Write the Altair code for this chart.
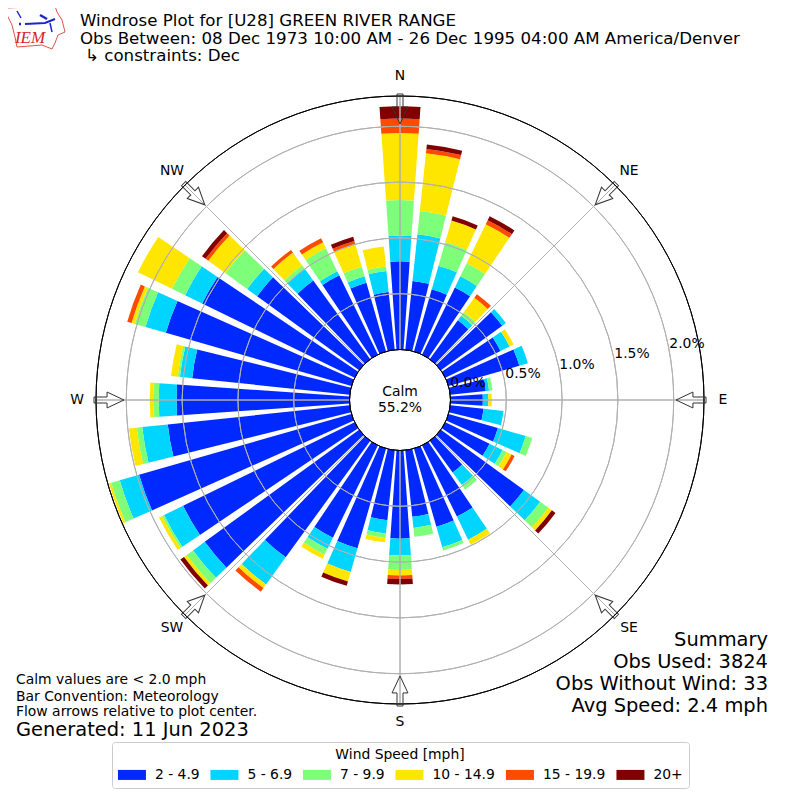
import math
import altair as alt
import pandas as pd

directions = list(range(0, 360, 10))
classes = ["2 - 4.9", "5 - 6.9", "7 - 9.9", "10 - 14.9", "15 - 19.9", "20+"]
colors = ["#0029ff", "#00d5ff", "#7dff7a", "#ffe600", "#ff4a00", "#800000"]

# percent of observations per direction, one list per speed class
s_2_5 = [.79, .62, .58, .67, .43, .68, .55, .66, .32, .29, .30, .46, .44, .92, .35, .71, .73, .60,
         .79, .63, .93, .92, 1.29, 1.71, 1.71, 1.98, 1.64, 1.55, 1.42, 1.73, 1.52, 1.13, .87, .79, .64, .52]
s_5_7 = [.23, .42, .22, .11, .05, .04, .09, .08, .03, .05, .18, .26, .13, .18, .14, .23, .19, .10,
         .15, .12, .22, .11, .30, .13, .19, .18, .23, .16, .11, .19, .17, .11, .13, .04, .06, .19]
s_7_10 = [.32, .21, .22, .13, .04, 0, 0, 0, .03, 0, 0, .06, .04, .09, .05, 0, .03, .08,
          .13, .04, 0, .06, 0, .07, .02, .08, .05, .05, .02, .10, .13, .24, .04, .23, .09, .04]
s_10_15 = [.60, .52, .20, .39, .16, 0, .04, 0, 0, .03, 0, 0, .05, .04, 0, .05, 0, 0,
           .05, .04, .09, .04, .04, .03, .03, .02, .07, .03, .06, .03, .34, .19, .14, .06, .21, .18]
s_15_20 = [.13, .04, 0, .04, .04, 0, 0, 0, 0, 0, 0, 0, .03, 0, 0, 0, 0, 0,
           .03, 0, 0, 0, .04, 0, 0, 0, 0, 0, 0, .04, 0, .03, .03, .04, .03, 0]
s_20 = [.11, .04, .04, .04, 0, 0, 0, 0, 0, 0, 0, 0, 0, .04, 0, 0, 0, 0,
        .05, 0, .04, 0, 0, .04, 0, 0, 0, 0, 0, 0, 0, .04, 0, 0, .04, 0]
series = [s_2_5, s_5_7, s_7_10, s_10_15, s_15_20, s_20]

ring_values = [0.5, 1.0, 1.5, 2.0]
ring_labels = ["0.0%", "0.5%", "1.0%", "1.5%", "2.0%"]
compass = ["N", "NE", "E", "SE", "S", "SW", "W", "NW"]
outer = 2.2715

CX, CY = 392, 392
FONT = "DejaVu Sans"

rows = []
for i, d in enumerate(directions):
    base = 0.0
    for c, vals in zip(classes, series):
        v = vals[i]
        if v > 0:
            rows.append(dict(cls=c, a=math.radians(d - 4), b=math.radians(d + 4), r0=base, r1=base + v))
        base += v
bars_df = pd.DataFrame(rows)

rscale = alt.Scale(type="linear", domain=[0, outer], range=[50.5, 304])
center = dict(x=alt.value(CX), y=alt.value(CY))

bars = alt.Chart(bars_df).mark_arc(stroke=None).encode(
    theta=alt.Theta("a:Q", scale=None),
    theta2="b:Q",
    radius=alt.Radius("r1:Q", scale=rscale),
    radius2="r0:Q",
    color=alt.Color(
        "cls:N",
        scale=alt.Scale(domain=classes, range=colors),
        sort=classes,
        legend=alt.Legend(
            title="Wind Speed [mph]", orient="none", legendX=104, legendY=734,
            direction="horizontal", columns=6, columnPadding=9.5,
            symbolType="M-1.4,-1H4.2V1H-1.4Z",
            symbolSize=100, symbolStrokeWidth=0, symbolOpacity=1, titleFont=FONT, labelFont=FONT,
            titleFontSize=13.9, labelFontSize=13.9, titleFontWeight="normal", titleColor="#000",
            labelColor="#000", fillColor="white", strokeColor="#cccccc", cornerRadius=3,
            padding=6, titleAnchor="middle", titlePadding=6, labelOffset=23, titleLimit=400,
        ),
    ),
    **center,
)

rings = alt.Chart(pd.DataFrame({"r": ring_values, "a": [0.0] * 4, "b": [2 * math.pi] * 4})).mark_arc(
    filled=False, stroke="#b0b0b0", strokeWidth=1
).encode(theta=alt.Theta("a:Q", scale=None), theta2="b:Q",
         radius=alt.Radius("r:Q", scale=rscale), radius2="r:Q", **center)

spokes = alt.Chart(pd.DataFrame({"a": [math.radians(45 * i) for i in range(8)], "r0": [0.0] * 8, "r1": [outer] * 8})).mark_arc(
    filled=False, stroke="#b0b0b0", strokeWidth=1
).encode(theta=alt.Theta("a:Q", scale=None), theta2="a:Q",
         radius=alt.Radius("r1:Q", scale=rscale), radius2="r0:Q", **center)

outer_ring = alt.Chart(pd.DataFrame({"r": [outer], "a": [0.0], "b": [2 * math.pi]})).mark_arc(
    filled=False, stroke="black", strokeWidth=1
).encode(theta=alt.Theta("a:Q", scale=None), theta2="b:Q",
         radius=alt.Radius("r:Q", scale=rscale), radius2="r:Q", **center)

calm = alt.Chart(pd.DataFrame({"r": [0.0], "a": [0.0], "b": [2 * math.pi]})).mark_arc(
    fill="white", stroke="black", strokeWidth=1
).encode(theta=alt.Theta("a:Q", scale=None), theta2="b:Q",
         radius=alt.Radius("r:Q", scale=rscale), **center)

# wind-direction arrows straddling the outer circle, pointing to the centre
ARROW = "M-.2,-1L.2,-1L.2,-.13L.53,-.13L0,1L-.53,-.13L-.2,-.13Z"
arrow_df = pd.DataFrame({
    "deg": [45 * i for i in range(8)],
    "x": [CX + 291 * math.sin(math.radians(45 * i)) for i in range(8)],
    "y": [CY - 291 * math.cos(math.radians(45 * i)) for i in range(8)],
})
arrows = alt.Chart(arrow_df).mark_point(shape=ARROW, size=900, filled=False, stroke="#333333", strokeWidth=1, opacity=1).encode(
    x=alt.X("x:Q", scale=None, axis=None), y=alt.Y("y:Q", scale=None, axis=None),
    angle=alt.Angle("deg:Q", scale=None),
)


def texts(items, align, size, **kw):
    df = pd.DataFrame([dict(x=x - 8, y=y - 8, t=t) for x, y, t in items])
    return alt.Chart(df).mark_text(align=align, baseline="middle", font=kw.pop("font", FONT), fontSize=size, color=kw.pop("color", "black"), **kw).encode(
        x=alt.X("x:Q", scale=None, axis=None), y=alt.Y("y:Q", scale=None, axis=None), text="t:N")


title_txt = texts([(80, 21, "Windrose Plot for [U28] GREEN RIVER RANGE"),
                   (80, 39, "Obs Between: 08 Dec 1973 10:00 AM - 26 Dec 1995 04:00 AM America/Denver"),
                   (85, 56, "\u21b3 constraints: Dec")], "left", 16.67)
compass_txt = texts(list(zip([400, 629, 723, 629, 400, 172, 77, 172],
                             [76, 171, 400, 628, 722, 628, 400, 171], compass)), "center", 13.9)
ring_txt = texts(list(zip([468, 523, 577, 632, 687], [383, 374, 365, 354, 344], ring_labels)), "center", 13.9)
calm_txt = texts([(400, 392, "Calm"), (400, 408, "55.2%")], "center", 13.9)
summary_txt = texts([(768, 640, "Summary"), (768, 662, "Obs Used: 3824"),
                     (768, 684, "Obs Without Wind: 33"), (768, 706, "Avg Speed: 2.4 mph")], "right", 19.44)
notes_txt = texts([(16, 680, "Calm values are < 2.0 mph"), (16, 697, "Bar Convention: Meteorology"),
                   (16, 712, "Flow arrows relative to plot center.")], "left", 13.9)
gen_txt = texts([(16, 730, "Generated: 11 Jun 2023")], "left", 19.44)
logo_txt = texts([(30, 38, "IEM")], "center", 17, font="Liberation Serif", color="#d8232a", fontStyle="italic")

# small logo outline and wind glyph
iowa = [(7, 8), (55, 6), (57, 12), (62, 20), (65, 32), (58, 35), (55, 43), (52, 49), (42, 45), (17, 47), (15, 37), (12, 25), (7, 15), (7, 8)]
logo_lines = [("o", iowa, "#e05050", 1), ("a", [(25, 24), (45, 23), (55, 19)], "#1a28c8", 2),
              ("b", [(17, 11), (21, 18)], "#1a28c8", 1.5), ("c", [(40, 15), (47, 19)], "#1a28c8", 2.5),
              ("d", [(50, 23), (52, 32)], "#1a28c8", 1.5), ("e", [(19, 24), (21, 24)], "#1a28c8", 2.5)]
ldf = pd.DataFrame([dict(k=k, o=i, x=p[0] - 8, y=p[1] - 8, c=c, w=w) for k, pts, c, w in logo_lines for i, p in enumerate(pts)])
logo = alt.Chart(ldf).mark_line().encode(
    x=alt.X("x:Q", scale=None, axis=None), y=alt.Y("y:Q", scale=None, axis=None), order="o:Q", detail="k:N",
    stroke=alt.Stroke("c:N", scale=None), strokeWidth=alt.StrokeWidth("w:Q", scale=None))

chart = alt.layer(
    bars, rings, spokes, outer_ring, calm, arrows, title_txt, compass_txt, ring_txt, calm_txt,
    summary_txt, notes_txt, gen_txt, logo, logo_txt,
).properties(
    width=784, height=784, padding=0, autosize=alt.AutoSizeParams(type="none"),
).configure_view(stroke=None)

chart.save("out.html", embed_options={"renderer": "svg", "actions": False})
